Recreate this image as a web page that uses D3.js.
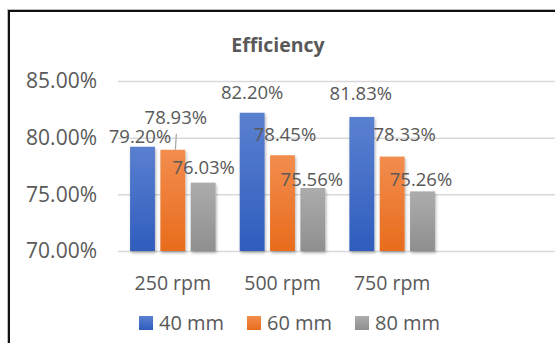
<!DOCTYPE html>
<html>
<head>
<meta charset="utf-8">
<script src="https://cdn.jsdelivr.net/npm/d3@7"></script>
<style>
  body { margin: 0; background: #fff; }
  text { font-family: 'Open Sans', sans-serif; fill: #595959; }
</style>
</head>
<body>
<div id="chart"></div>
<script>
const categories = ['250 rpm', '500 rpm', '750 rpm'];
const seriesNames = ['40 mm', '60 mm', '80 mm'];
const values40 = [79.20, 82.20, 81.83];
const values60 = [78.93, 78.45, 78.33];
const values80 = [76.03, 75.56, 75.26];
const yTicks = [70, 75, 80, 85];

// label offsets (dx from bar centre, dy from bar top to baseline), hand-placed like the original
const labelNudge = [
    [[-2.5, -4], [3, -26], [0.5, -9]],
    [[0, -14], [2.5, -14], [-1, -2]],
    [[-1, -17], [12.5, -15.5], [-1.5, -5.5]]
];

const series = [values40, values60, values80];
const colors = [
    ['#5a80d0', '#2f5dbd'],
    ['#f28d4e', '#e86c1c'],
    ['#acacac', '#8f8f8f']
];

const width = 555;
const height = 343;

const svg = d3.select('#chart')
    .append('svg')
    .attr('width', width)
    .attr('height', height);

const defs = svg.append('defs');
colors.forEach((c, i) => {
    const g = defs.append('linearGradient')
        .attr('id', 'grad' + i)
        .attr('x1', 0).attr('y1', 0)
        .attr('x2', 0).attr('y2', 1);
    g.append('stop').attr('offset', '0%').attr('stop-color', c[0]);
    g.append('stop').attr('offset', '100%').attr('stop-color', c[1]);
});
const shadow = defs.append('filter')
    .attr('id', 'shadow')
    .attr('x', '-30%').attr('y', '-10%')
    .attr('width', '160%').attr('height', '130%');
shadow.append('feDropShadow')
    .attr('dx', 1).attr('dy', 2)
    .attr('stdDeviation', 1.5)
    .attr('flood-color', '#000')
    .attr('flood-opacity', 0.3);

// chart frame
svg.append('rect')
    .attr('x', 7.5)
    .attr('y', 9.5)
    .attr('width', 560)
    .attr('height', 340)
    .attr('fill', 'none')
    .attr('stroke', '#bbb')
    .attr('stroke-width', 1);
svg.append('rect')
    .attr('x', 9)
    .attr('y', 11)
    .attr('width', 560)
    .attr('height', 340)
    .attr('fill', 'none')
    .attr('stroke', '#111')
    .attr('stroke-width', 2);

const yScale = d3.scaleLinear()
    .domain([70, 85])
    .range([251, 81]);

const xScale = d3.scaleBand()
    .domain(categories)
    .range([118, 447])
    .paddingInner(0.22)
    .paddingOuter(0.11);

const xInner = d3.scaleBand()
    .domain(seriesNames)
    .range([0, xScale.bandwidth()])
    .paddingInner(0.18);

// title
svg.append('text')
    .attr('x', 278)
    .attr('y', 52)
    .attr('text-anchor', 'middle')
    .style('font-size', '19.5px')
    .style('font-weight', 'bold')
    .text('Efficiency');

// grid + y axis
const yAxis = d3.axisLeft(yScale)
    .tickValues(yTicks)
    .tickSize(-(width - 118))
    .tickPadding(21)
    .tickFormat((d) => d.toFixed(2) + '%');

svg.append('g')
    .attr('class', 'y-axis')
    .attr('transform', 'translate(118, 0)')
    .call(yAxis)
    .call((g) => g.select('.domain').remove())
    .call((g) => g.selectAll('line').attr('stroke', '#d9d9d9').attr('stroke-width', 1.5))
    .call((g) => g.selectAll('text').style('font-size', '21px').attr('fill', '#595959'));

// bars
const groups = svg.selectAll('.cat')
    .data(categories)
    .enter()
        .append('g')
        .attr('class', 'cat')
        .attr('transform', (d) => `translate(${xScale(d)}, 0)`);

groups.selectAll('rect')
    .data((d, ci) => series.map((s, si) => ({ ci, si, v: s[ci] })))
    .enter()
        .append('rect')
        .attr('x', (d) => xInner(seriesNames[d.si]))
        .attr('y', (d) => yScale(d.v))
        .attr('width', xInner.bandwidth())
        .attr('height', (d) => yScale(70) - yScale(d.v))
        .attr('fill', (d) => `url(#grad${d.si})`)
        .attr('filter', 'url(#shadow)');

// leader line for the 60 mm / 250 rpm label
const leadX = xScale(categories[0]) + xInner(seriesNames[1]) + xInner.bandwidth() / 2;
svg.append('line')
    .attr('x1', leadX + 3.5)
    .attr('y1', yScale(values60[0]) - 16)
    .attr('x2', leadX + 2.5)
    .attr('y2', yScale(values60[0]))
    .attr('stroke', '#a6a6a6')
    .attr('stroke-width', 1.2);

// data labels
groups.selectAll('.lbl')
    .data((d, ci) => series.map((s, si) => ({ ci, si, v: s[ci] })))
    .enter()
        .append('text')
        .attr('class', 'lbl')
        .attr('x', (d) => xInner(seriesNames[d.si]) + xInner.bandwidth() / 2 + labelNudge[d.ci][d.si][0])
        .attr('y', (d) => yScale(d.v) + labelNudge[d.ci][d.si][1])
        .attr('text-anchor', 'middle')
        .style('font-size', '18.5px')
        .text((d) => d.v.toFixed(2) + '%');

// x labels
svg.append('g')
    .selectAll('text')
    .data(categories)
    .enter()
        .append('text')
        .attr('x', (d) => xScale(d) + xScale.bandwidth() / 2)
        .attr('y', 290)
        .attr('text-anchor', 'middle')
        .style('font-size', '19.5px')
        .text((d) => d);

// legend
const legendX = [139, 247, 355];
const legend = svg.selectAll('.legend')
    .data(seriesNames)
    .enter()
        .append('g')
        .attr('class', 'legend')
        .attr('transform', (d, i) => `translate(${legendX[i]}, 316)`);

legend.append('rect')
    .attr('width', 14)
    .attr('height', 14)
    .attr('fill', (d, i) => `url(#grad${i})`);

legend.append('text')
    .attr('x', 20)
    .attr('y', 14)
    .style('font-size', '20px')
    .text((d) => d);
</script>
</body>
</html>
